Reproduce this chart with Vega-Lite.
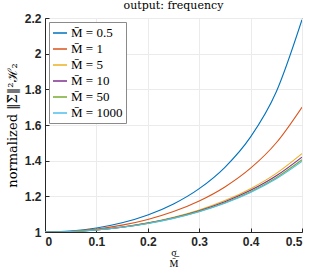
{
  "$schema": "https://vega.github.io/schema/vega-lite/v6.json",
  "width": 257,
  "height": 214,
  "autosize": {"type": "none"},
  "padding": {"left": 45, "top": 18, "right": 10, "bottom": 41},
  "title": {"text": "output: frequency", "font": "DejaVu Serif", "fontSize": 11, "fontWeight": "normal", "color": "#000000", "offset": 5, "dy": 4},
  "config": {
    "view": {"stroke": "#262626", "strokeWidth": 1},
    "axis": {"labelFont": "Liberation Sans", "labelFontWeight": "bold", "labelFontSize": 12, "labelColor": "#262626", "domainColor": "#262626", "tickColor": "#262626", "gridColor": "#ebebeb", "titleFont": "Liberation Serif", "titleFontWeight": "normal", "titleColor": "#000000"}
  },
  "data": {"values": [
    {"x": 0, "y": 1, "M": "M̄ = 0.5"},
    {"x": 0.05, "y": 1.00546, "M": "M̄ = 0.5"},
    {"x": 0.1, "y": 1.0222, "M": "M̄ = 0.5"},
    {"x": 0.15, "y": 1.0514, "M": "M̄ = 0.5"},
    {"x": 0.2, "y": 1.0952, "M": "M̄ = 0.5"},
    {"x": 0.25, "y": 1.1572, "M": "M̄ = 0.5"},
    {"x": 0.3, "y": 1.2433, "M": "M̄ = 0.5"},
    {"x": 0.35, "y": 1.363, "M": "M̄ = 0.5"},
    {"x": 0.4, "y": 1.5334, "M": "M̄ = 0.5"},
    {"x": 0.45, "y": 1.7865, "M": "M̄ = 0.5"},
    {"x": 0.5, "y": 2.1906, "M": "M̄ = 0.5"},
    {"x": 0, "y": 1, "M": "M̄ = 1"},
    {"x": 0.05, "y": 1.00413, "M": "M̄ = 1"},
    {"x": 0.1, "y": 1.01675, "M": "M̄ = 1"},
    {"x": 0.15, "y": 1.03848, "M": "M̄ = 1"},
    {"x": 0.2, "y": 1.07053, "M": "M̄ = 1"},
    {"x": 0.25, "y": 1.11475, "M": "M̄ = 1"},
    {"x": 0.3, "y": 1.17402, "M": "M̄ = 1"},
    {"x": 0.35, "y": 1.25275, "M": "M̄ = 1"},
    {"x": 0.4, "y": 1.35781, "M": "M̄ = 1"},
    {"x": 0.45, "y": 1.50041, "M": "M̄ = 1"},
    {"x": 0.5, "y": 1.7, "M": "M̄ = 1"},
    {"x": 0, "y": 1, "M": "M̄ = 5"},
    {"x": 0.05, "y": 1.00306, "M": "M̄ = 5"},
    {"x": 0.1, "y": 1.01237, "M": "M̄ = 5"},
    {"x": 0.15, "y": 1.02827, "M": "M̄ = 5"},
    {"x": 0.2, "y": 1.05139, "M": "M̄ = 5"},
    {"x": 0.25, "y": 1.08269, "M": "M̄ = 5"},
    {"x": 0.3, "y": 1.12357, "M": "M̄ = 5"},
    {"x": 0.35, "y": 1.17605, "M": "M̄ = 5"},
    {"x": 0.4, "y": 1.24304, "M": "M̄ = 5"},
    {"x": 0.45, "y": 1.32882, "M": "M̄ = 5"},
    {"x": 0.5, "y": 1.43988, "M": "M̄ = 5"},
    {"x": 0, "y": 1, "M": "M̄ = 10"},
    {"x": 0.05, "y": 1.00297, "M": "M̄ = 10"},
    {"x": 0.1, "y": 1.01197, "M": "M̄ = 10"},
    {"x": 0.15, "y": 1.02735, "M": "M̄ = 10"},
    {"x": 0.2, "y": 1.04967, "M": "M̄ = 10"},
    {"x": 0.25, "y": 1.07984, "M": "M̄ = 10"},
    {"x": 0.3, "y": 1.11916, "M": "M̄ = 10"},
    {"x": 0.35, "y": 1.16948, "M": "M̄ = 10"},
    {"x": 0.4, "y": 1.23347, "M": "M̄ = 10"},
    {"x": 0.45, "y": 1.31503, "M": "M̄ = 10"},
    {"x": 0.5, "y": 1.41995, "M": "M̄ = 10"},
    {"x": 0, "y": 1, "M": "M̄ = 50"},
    {"x": 0.05, "y": 1.00289, "M": "M̄ = 50"},
    {"x": 0.1, "y": 1.01166, "M": "M̄ = 50"},
    {"x": 0.15, "y": 1.02663, "M": "M̄ = 50"},
    {"x": 0.2, "y": 1.04835, "M": "M̄ = 50"},
    {"x": 0.25, "y": 1.07766, "M": "M̄ = 50"},
    {"x": 0.3, "y": 1.11578, "M": "M̄ = 50"},
    {"x": 0.35, "y": 1.16447, "M": "M̄ = 50"},
    {"x": 0.4, "y": 1.22621, "M": "M̄ = 50"},
    {"x": 0.45, "y": 1.3046, "M": "M̄ = 50"},
    {"x": 0.5, "y": 1.40499, "M": "M̄ = 50"},
    {"x": 0, "y": 1, "M": "M̄ = 1000"},
    {"x": 0.05, "y": 1.00285, "M": "M̄ = 1000"},
    {"x": 0.1, "y": 1.01148, "M": "M̄ = 1000"},
    {"x": 0.15, "y": 1.0262, "M": "M̄ = 1000"},
    {"x": 0.2, "y": 1.04755, "M": "M̄ = 1000"},
    {"x": 0.25, "y": 1.07633, "M": "M̄ = 1000"},
    {"x": 0.3, "y": 1.11374, "M": "M̄ = 1000"},
    {"x": 0.35, "y": 1.16144, "M": "M̄ = 1000"},
    {"x": 0.4, "y": 1.22183, "M": "M̄ = 1000"},
    {"x": 0.45, "y": 1.29832, "M": "M̄ = 1000"},
    {"x": 0.5, "y": 1.39602, "M": "M̄ = 1000"}
  ]},
  "mark": {"type": "line", "interpolate": "monotone", "strokeWidth": 1.1, "clip": true},
  "encoding": {
    "x": {"field": "x", "type": "quantitative", "scale": {"domain": [0, 0.5], "nice": false}, "axis": {"values": [0, 0.1, 0.2, 0.3, 0.4, 0.5], "format": "~g", "tickSize": -4, "labelPadding": 8, "title": ["σ̲", "M̄"], "titleFontSize": 10, "titleLineHeight": 11, "titlePadding": 0}},
    "y": {"field": "y", "type": "quantitative", "scale": {"domain": [1, 2.2], "nice": false, "zero": false}, "axis": {"values": [1, 1.2, 1.4, 1.6, 1.8, 2, 2.2], "format": "~g", "tickSize": -4, "labelPadding": 8, "title": "normalized ‖Σ̃‖²ℋ₂", "titleFont": "DejaVu Serif", "titleFontSize": 13, "titlePadding": 5}},
    "color": {"field": "M", "type": "nominal", "scale": {"domain": ["M̄ = 0.5", "M̄ = 1", "M̄ = 5", "M̄ = 10", "M̄ = 50", "M̄ = 1000"], "range": ["#0072BD", "#D95319", "#EDB120", "#7E2F8E", "#77AC30", "#4DBEEE"]},
      "legend": {"title": null, "orient": "none", "legendX": 4, "legendY": 4, "symbolType": "stroke", "symbolSize": 196, "symbolStrokeWidth": 1.5, "labelFont": "Liberation Serif", "labelFontSize": 13, "labelColor": "#000000", "fillColor": "#ffffff", "strokeColor": "#8a8a8a", "padding": 3, "rowPadding": 1, "labelOffset": 3}}
  }
}
